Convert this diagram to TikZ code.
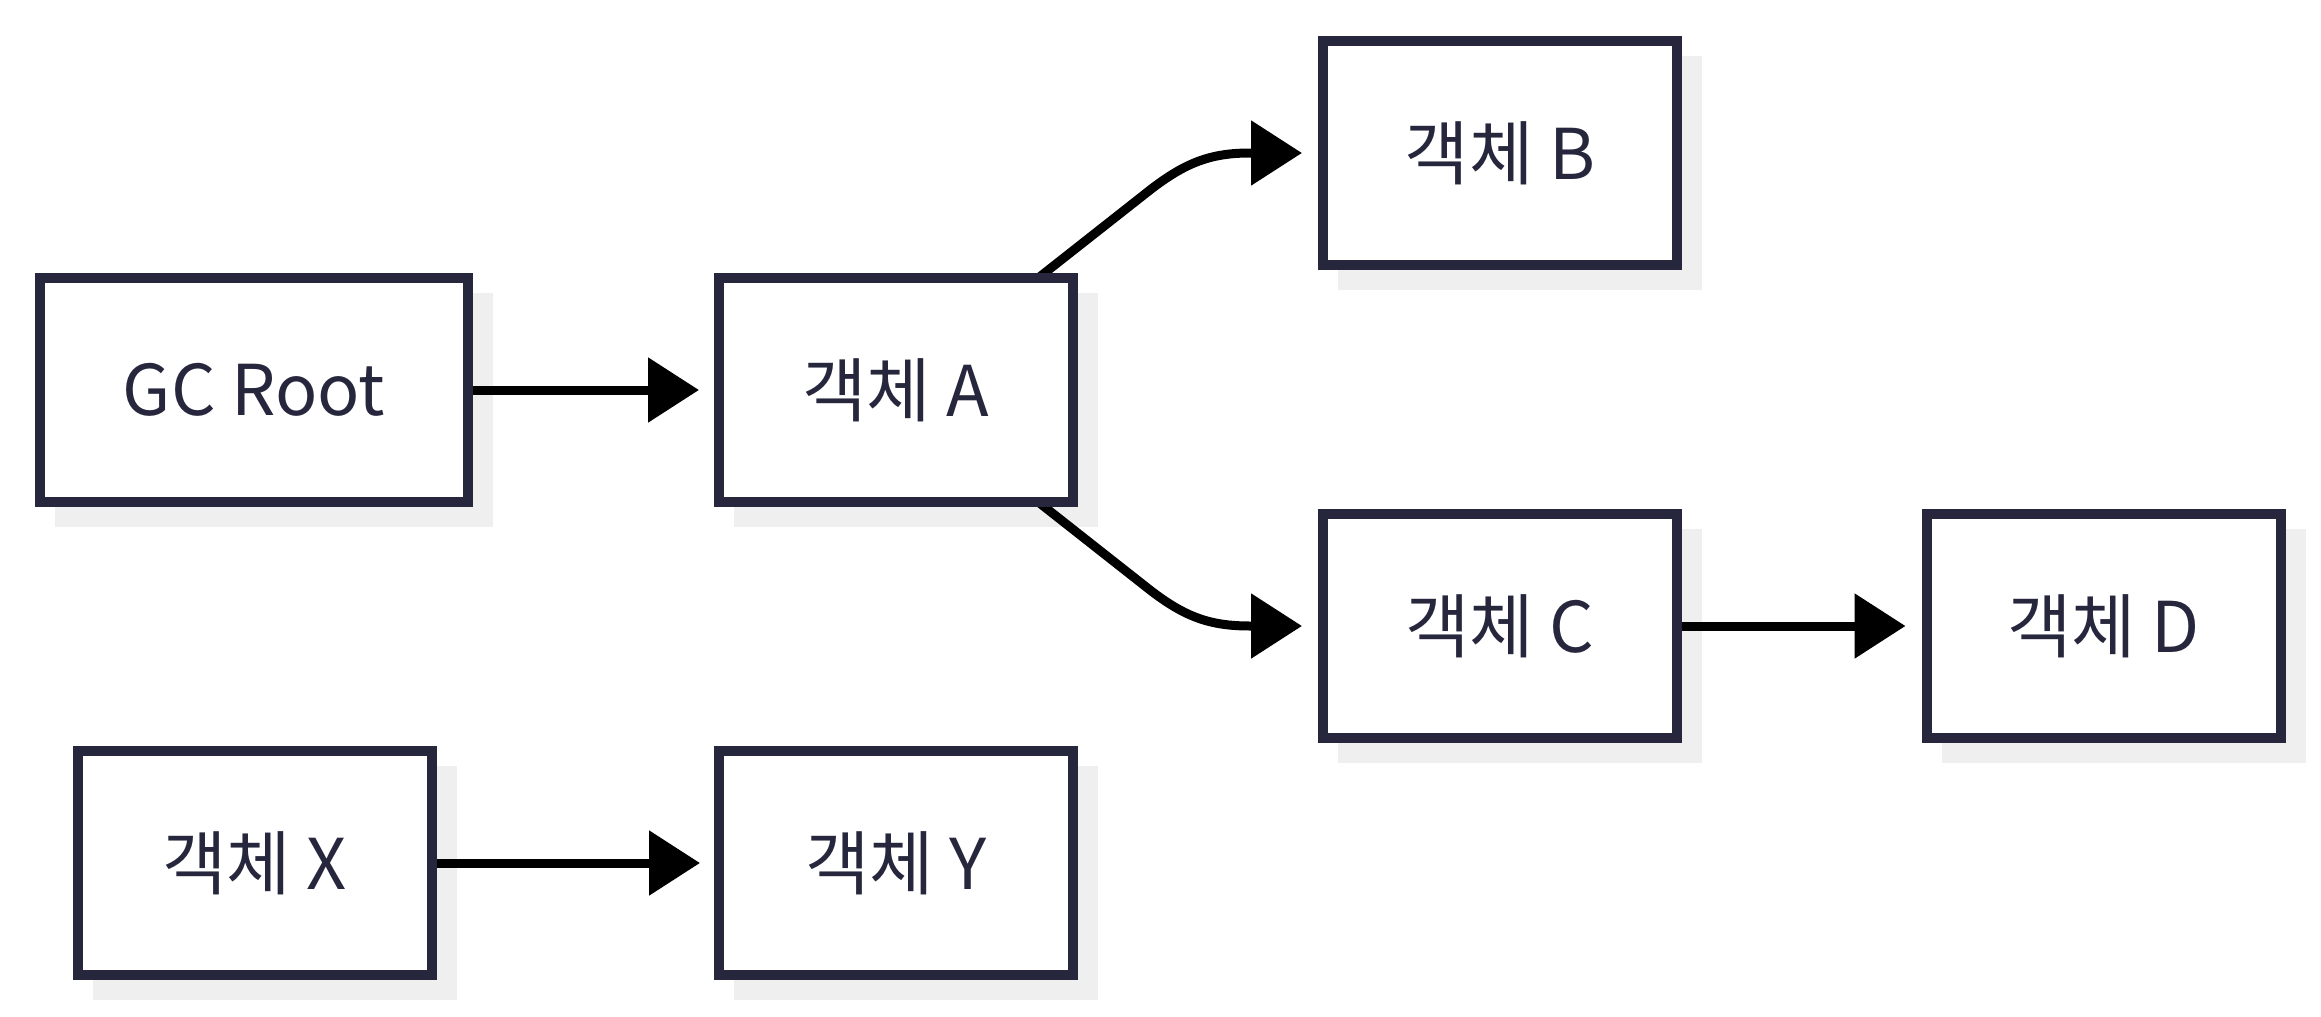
\documentclass[tikz,border=0pt]{standalone}
\usepackage{fontspec}
\setmainfont{Noto Sans CJK KR}
\usetikzlibrary{arrows.meta}
\definecolor{boxline}{RGB}{38,39,61}
\definecolor{shadowgray}{RGB}{239,239,239}
\pgfdeclarelayer{shadowlayer}
\pgfdeclarelayer{edgelayer}
\pgfsetlayers{shadowlayer,edgelayer,main}
\tikzset{
  obj/.style={draw=boxline, line width=10pt, fill=white, text=boxline,
    minimum height=224pt, minimum width=354pt, inner sep=0pt,
    font=\fontsize{70pt}{74pt}\selectfont},
  edge/.style={line width=9pt, draw=black, -{Triangle[length=51pt,width=63pt]}},
  boxshadow/.style={fill=shadowgray, draw=none},
}
\begin{document}
\begin{tikzpicture}[x=1pt,y=-1pt]
\useasboundingbox (0,0) rectangle (2321,1017);
\node[obj, minimum width=428pt] (root) at (254,390) {GC Root};
\node[obj] (A) at (896,390) {객체 A};
\node[obj] (B) at (1500,153) {객체 B};
\node[obj] (C) at (1500,626) {객체 C};
\node[obj] (D) at (2103.5,626) {객체 D};
\node[obj] (X) at (254.5,863) {객체 X};
\node[obj] (Y) at (896,863) {객체 Y};
\begin{pgfonlayer}{shadowlayer}
\foreach \n in {root,A,B,C,D,X,Y}
  \path[boxshadow] ([shift={(20pt,-20pt)}]\n.north west) rectangle ([shift={(20pt,-20pt)}]\n.south east);
\end{pgfonlayer}
\begin{pgfonlayer}{edgelayer}
\draw[edge] (root.east) -- ([xshift=-15pt]A.west);
\draw[edge] (A.center) -- (1150,190) .. controls (1185,163) and (1210,153) .. (1250,153) -- ([xshift=-16pt]B.west);
\draw[edge] (A.center) -- (1150,590) .. controls (1185,617) and (1210,626) .. (1250,626) -- ([xshift=-16pt]C.west);
\draw[edge] (C.east) -- ([xshift=-16pt]D.west);
\draw[edge] (X.east) -- ([xshift=-14pt]Y.west);
\end{pgfonlayer}
\end{tikzpicture}
\end{document}
